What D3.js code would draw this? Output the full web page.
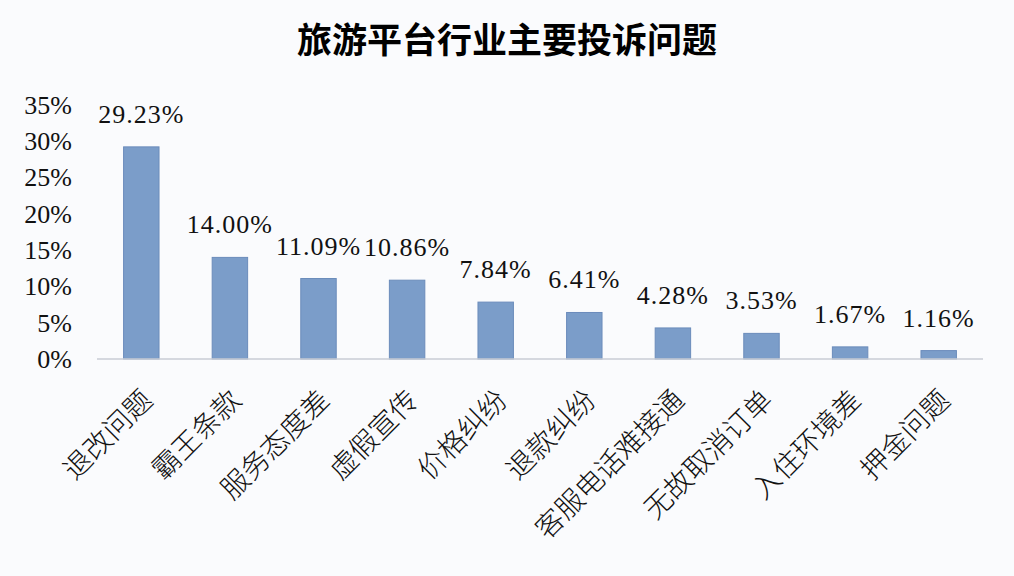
<!DOCTYPE html>
<html>
<head>
<meta charset="utf-8">
<script src="https://cdn.jsdelivr.net/npm/d3@7"></script>
<style>
  body { margin: 0; background: #fafbfd; }
  svg { display: block; }
</style>
</head>
<body>
<svg id="chart"></svg>
<script>
var categories = ["退改问题", "霸王条款", "服务态度差", "虚假宣传", "价格纠纷", "退款纠纷", "客服电话难接通", "无故取消订单", "入住环境差", "押金问题"];
var values = [29.23, 14.00, 11.09, 10.86, 7.84, 6.41, 4.28, 3.53, 1.67, 1.16];
var yTicks = [0, 5, 10, 15, 20, 25, 30, 35];
var title = "旅游平台行业主要投诉问题";

var W = 1014, H = 576;
var svg = d3.select("#chart").attr("width", W).attr("height", H);

var plotLeft = 97, plotRight = 983, plotTop = 105, plotBottom = 359;

var x = d3.scaleBand().domain(categories).range([plotLeft, plotRight]).paddingInner(0.6).paddingOuter(0.3);
var y = d3.scaleLinear().domain([0, 35]).range([plotBottom, plotTop]);

svg.append("text")
  .attr("x", 507).attr("y", 53)
  .attr("text-anchor", "middle")
  .style("font-family", "'Noto Sans CJK SC'")
  .style("font-weight", "bold")
  .style("font-size", "35px")
  .attr("fill", "#000")
  .text(title);

// y axis labels only
var yAxis = svg.append("g")
  .attr("transform", "translate(" + (plotLeft - 22) + ",0)")
  .call(d3.axisLeft(y).tickValues(yTicks).tickSize(0).tickPadding(3).tickFormat(function(d){ return d + "%"; }));
yAxis.select(".domain").remove();
yAxis.selectAll("text")
  .style("font-family", "'Liberation Serif'")
  .style("font-size", "26px")
  .attr("fill", "#111");

svg.selectAll(".bar")
  .data(values)
  .enter()
  .append("rect")
  .attr("class", "bar")
  .attr("x", function(d, i){ return x(categories[i]); })
  .attr("y", function(d){ return y(d); })
  .attr("width", x.bandwidth())
  .attr("height", function(d){ return y(0) - y(d); })
  .attr("fill", "#7b9dc9")
  .attr("stroke", "#6b8cbb")
  .attr("stroke-width", 1);

// baseline
svg.append("line")
  .attr("x1", plotLeft).attr("x2", plotRight)
  .attr("y1", y(0)).attr("y2", y(0))
  .attr("stroke", "#c9cdd5")
  .attr("stroke-width", 1.5);

svg.selectAll(".val")
  .data(values)
  .enter()
  .append("text")
  .attr("class", "val")
  .attr("x", function(d, i){ return x(categories[i]) + x.bandwidth() / 2; })
  .attr("y", function(d){ return y(d) - 24; })
  .attr("text-anchor", "middle")
  .style("font-family", "'Liberation Serif'")
  .style("font-size", "26px")
  .style("letter-spacing", "1px")
  .attr("fill", "#111")
  .text(function(d){ return d.toFixed(2) + "%"; });

svg.selectAll(".cat")
  .data(categories)
  .enter()
  .append("text")
  .attr("class", "cat")
  .attr("transform", function(d){
    return "translate(" + (x(d) + x.bandwidth() / 2 + 13) + "," + 402 + ") rotate(-45)";
  })
  .attr("text-anchor", "end")
  .style("font-family", "'Noto Sans CJK SC'")
  .style("font-size", "28px")
  .style("font-weight", "300")
  .attr("fill", "#111")
  .text(function(d){ return d; });
</script>
</body>
</html>
